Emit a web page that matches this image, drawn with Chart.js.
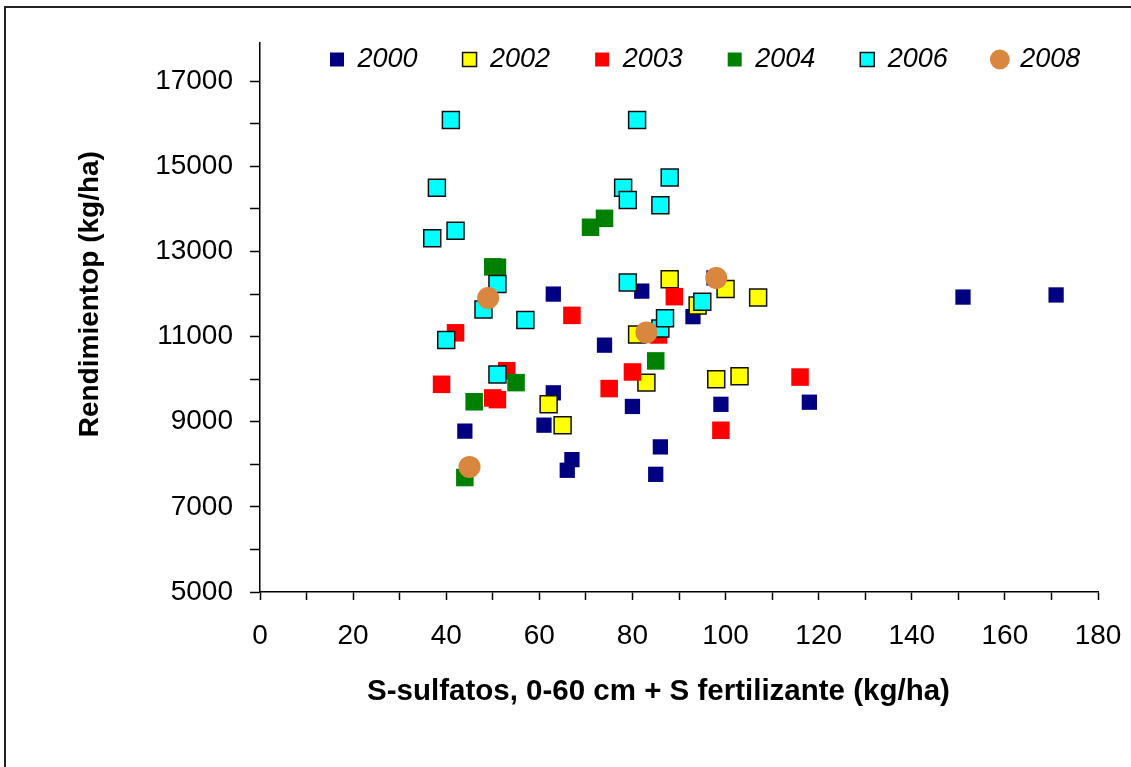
<!DOCTYPE html>
<html>
<head>
<meta charset="utf-8">
<script src="https://cdn.jsdelivr.net/npm/chart.js@4"></script>
<style>
  html, body { margin: 0; padding: 0; background: #fff; overflow: hidden; }
  #wrap { position: relative; width: 1131px; height: 767px; }
  #frame { position: absolute; left: 4px; top: 6px; width: 1300px; height: 900px; border: 2px solid #222; box-sizing: border-box; }
  #chart { position: absolute; left: 0; top: 0; }
</style>
</head>
<body>
<div id="wrap">
  <div id="frame"></div>
  <canvas id="chart" width="1131" height="767"></canvas>
</div>
<script>
// series values (x = S kg/ha, y = rendimiento kg/ha)
const x2000 = [44, 61, 63, 63, 66, 67, 74, 80, 82, 85, 86, 93, 97.5, 99, 118, 151, 171];
const y2000 = [8780, 8920, 9680, 12000, 7860, 8110, 10800, 9360, 12070, 7765, 8410, 11470, 12380, 9410, 9460, 11930, 11980];

const x2002 = [62, 65, 81, 83, 88, 94, 98, 100, 103, 107];
const y2002 = [9410, 8920, 11050, 9920, 12350, 11730, 10000, 12120, 10070, 11920];

const x2003 = [39, 42, 50, 51, 53, 67, 75, 80, 85.6, 89, 99, 116];
const y2003 = [9880, 11090, 9560, 9520, 10200, 11500, 9780, 10170, 11040, 11940, 8800, 10050];

const x2004 = [44, 46, 50, 51, 55, 71, 74, 85];
const y2004 = [7690, 9470, 12640, 12630, 9920, 13570, 13780, 10430];

const x2006 = [37, 38, 40, 41, 42, 48, 51, 51, 57, 78, 79, 79, 81, 86, 86, 87, 88, 95];
const y2006 = [13310, 14500, 10920, 16090, 13490, 11640, 12235, 10110, 11390, 14500, 14210, 12270, 16090, 14090, 11190, 11430, 14740, 11820];

const x2008 = [45, 49, 83, 98];
const y2008 = [7940, 11910, 11100, 12380];

const years = ["2000", "2002", "2003", "2004", "2006", "2008"];
// marcas del eje Y (mayores con texto cada 2000, menores sin texto)
const yTicks = [5000, 6000, 7000, 8000, 9000, 10000, 11000, 12000, 13000, 14000, 15000, 16000, 17000];
const yLabels = [5000, 7000, 9000, 11000, 13000, 15000, 17000];
const xLabels = [0, 20, 40, 60, 80, 100, 120, 140, 160, 180];
const xTitle = "S-sulfatos, 0-60 cm + S fertilizante (kg/ha)";
const yTitle = "Rendimientop (kg/ha)";

const pts = (xs, ys) => xs.map((x, i) => ({ x, y: ys[i] }));

// estilo por serie
function serie(label, xs, ys, fill, border, style, radius, order) {
  return {
    label,
    data: pts(xs, ys),
    pointStyle: style,
    pointRadius: radius,
    pointHoverRadius: radius,
    backgroundColor: fill,
    borderColor: border || fill,
    borderWidth: border ? 1.5 : 0,
    order
  };
}

const FONT = "'Liberation Sans', Arial, sans-serif";

// la leyenda va dentro del área del gráfico, arriba
const legendInside = {
  id: "legendInside",
  afterLayout(chart) {
    const lg = chart.legend;
    if (!lg) return;
    const pad = lg.options.labels.padding;
    lg.left = 330 - pad;
    lg.right = 1131;
    lg.top = 46 - pad;
    lg.bottom = 80;
    lg.width = lg.right - lg.left;
    lg.height = lg.bottom - lg.top;
  }
};

new Chart(document.getElementById("chart"), {
  type: "scatter",
  data: {
    datasets: [
      serie(years[0], x2000, y2000, "#000080", null, "rect", 10.8, 6),
      serie(years[1], x2002, y2002, "#FFFF00", "#111", "rect", 12, 5),
      serie(years[2], x2003, y2003, "#FF0000", null, "rect", 12.4, 4),
      serie(years[3], x2004, y2004, "#008000", null, "rect", 12.4, 3),
      serie(years[4], x2006, y2006, "#00FFFF", "#111", "rect", 12, 2),
      serie(years[5], x2008, y2008, "#D9863F", null, "circle", 11, 1)
    ]
  },
  options: {
    responsive: false,
    animation: false,
    devicePixelRatio: 1,
    layout: { padding: { left: 0, right: 33, top: 42, bottom: 0 } },
    plugins: {
      tooltip: { enabled: false },
      legend: {
        position: "top",
        align: "start",
        maxHeight: 1,
        labels: {
          usePointStyle: true,
          boxWidth: 14,
          boxHeight: 14,
          padding: 45,
          color: "#000",
          font: { family: FONT, size: 27, style: "italic" },
          sort: (a, b) => a.text.localeCompare(b.text)
        }
      }
    },
    scales: {
      x: {
        type: "linear",
        min: 0,
        max: 180,
        afterFit: (s) => { s.height = 175; s.paddingRight = 0; },
        border: { display: true, color: "#000", width: 1.5 },
        grid: { drawOnChartArea: false, drawTicks: true, tickLength: 8, tickColor: "#000", tickWidth: 1.5 },
        ticks: {
          stepSize: 10,
          autoSkip: false,
          maxRotation: 0,
          padding: 19,
          color: "#000",
          font: { family: FONT, size: 28 },
          callback: (v) => (xLabels.includes(v) ? String(v) : "")
        },
        title: {
          display: true,
          text: xTitle + "\u00A0\u00A0\u00A0\u00A0\u00A0",
          color: "#000",
          font: { family: FONT, size: 29.5, weight: "bold" },
          padding: { top: 0, bottom: 57 }
        }
      },
      y: {
        type: "linear",
        min: 5000,
        max: 17900,
        afterFit: (s) => { s.width = 260; },
        afterBuildTicks: (s) => { s.ticks = yTicks.map(v => ({ value: v })); },
        border: { display: true, color: "#000", width: 1.5 },
        grid: { drawOnChartArea: false, drawTicks: true, tickLength: 10, tickColor: "#000", tickWidth: 1.5 },
        ticks: {
          autoSkip: false,
          padding: 17,
          color: "#000",
          font: { family: FONT, size: 28 },
          callback: (v) => (yLabels.includes(v) ? String(v) : "")
        },
        title: {
          display: true,
          text: "\u00A0\u00A0\u00A0\u00A0\u00A0\u00A0" + yTitle,
          color: "#000",
          font: { family: FONT, size: 28, weight: "bold" },
          padding: { top: 73, bottom: 0 }
        }
      }
    }
  },
  plugins: [legendInside]
});
</script>
</body>
</html>
